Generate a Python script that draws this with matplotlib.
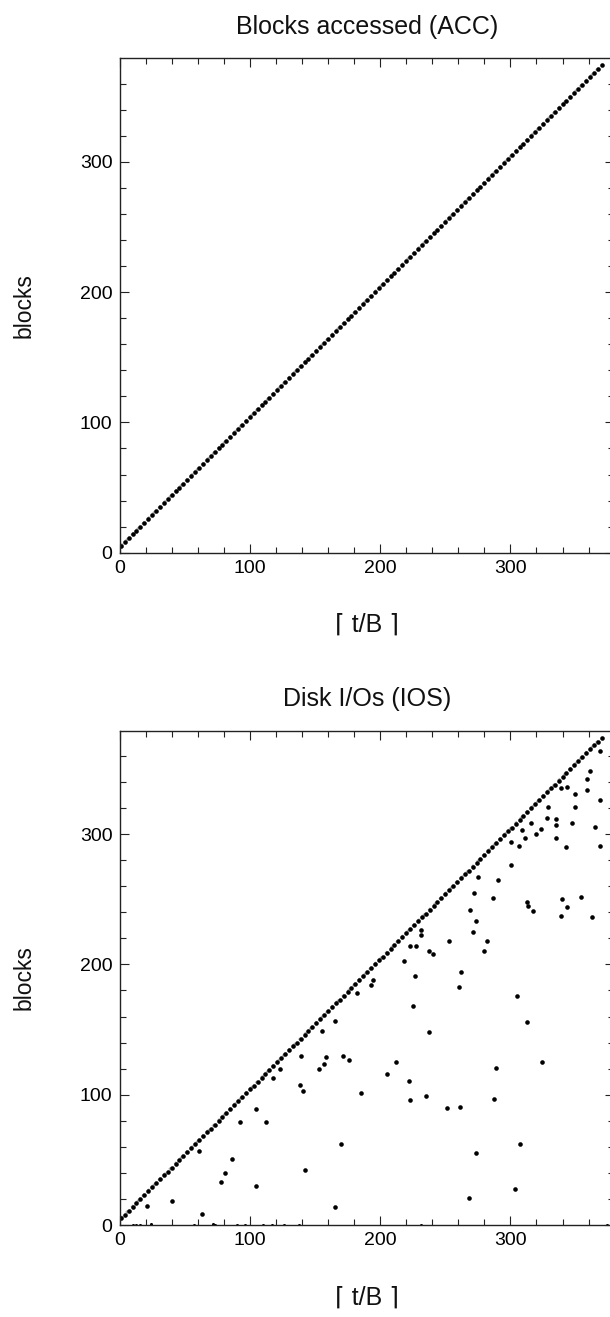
import matplotlib
matplotlib.use('Agg')
import matplotlib.pyplot as plt
from matplotlib.ticker import MultipleLocator

plt.rcParams['font.family'] = ['Liberation Sans', 'DejaVu Sans']

# ceil(t/B) values sampled along the run and blocks touched for each
tb = [1, 4, 7, 10, 13, 16, 19, 22, 25, 28, 31, 34, 37, 40, 43, 46, 49, 52, 55, 58,
      61, 64, 67, 70, 73, 76, 79, 82, 85, 88, 91, 94, 97, 100, 103, 106, 109, 112, 115, 118,
      121, 124, 127, 130, 133, 136, 139, 142, 145, 148, 151, 154, 157, 160, 163, 166, 169, 172, 175, 178,
      181, 184, 187, 190, 193, 196, 199, 202, 205, 208, 211, 214, 217, 220, 223, 226, 229, 232, 235, 238,
      241, 244, 247, 250, 253, 256, 259, 262, 265, 268, 271, 274, 277, 280, 283, 286, 289, 292, 295, 298,
      301, 304, 307, 310, 313, 316, 319, 322, 325, 328, 331, 334, 337, 340, 343, 346, 349, 352, 355, 358,
      361, 364, 367, 370]
acc = [5, 8, 11, 14, 17, 20, 23, 26, 29, 32, 35, 38, 41, 44, 47, 50, 53, 56, 59, 62,
       65, 68, 71, 74, 77, 80, 83, 86, 89, 92, 95, 98, 101, 104, 107, 110, 113, 116, 119, 122,
       125, 128, 131, 134, 137, 140, 143, 146, 149, 152, 155, 158, 161, 164, 167, 170, 173, 176, 179, 182,
       185, 188, 191, 194, 197, 200, 203, 206, 209, 212, 215, 218, 221, 224, 227, 230, 233, 236, 239, 242,
       245, 248, 251, 254, 257, 260, 263, 266, 269, 272, 275, 278, 281, 284, 287, 290, 293, 296, 299, 302,
       305, 308, 311, 314, 317, 320, 323, 326, 329, 332, 335, 338, 341, 344, 347, 350, 353, 356, 359, 362,
       365, 368, 371, 374]

# disk I/Os: most queries cost as much as they access, the rest fall below
ios_t = [368.5, 360.8, 358.7, 358.7, 368.5, 349.5, 349.5, 343.3, 338.5, 329.2,
         347.5, 364.6, 368.5, 334.6, 334.6, 334.6, 342.8, 328.2, 323.8, 320,
         316, 311.3, 309.2, 306.4, 300.2, 300.5, 290.8, 275.2, 272.3, 286.4,
         339.8, 353.8, 269.2, 273.6, 271.3, 282.3, 279.5, 252.5, 312.6, 313.8,
         317.4, 343.6, 338.5, 362.6, 237.2, 240.5, 223.1, 227.2, 218.2, 226.4,
         225.1, 237.4, 262.3, 260.2, 305.4, 312.6, 324.6, 289.2, 212.3, 205.4,
         222.3, 223.3, 235.4, 287.4, 185.4, 171.3, 176.2, 158.2, 157.2, 153.1,
         139, 138.2, 141, 165.4, 155.2, 182.3, 193.3, 194.4, 117.9, 123.3,
         231.2, 231.2, 105.1, 112.1, 92.3, 86.2, 81, 78.2, 105.1, 61.3,
         21, 40, 63.1, 142.3, 170.2, 165.2, 251.3, 261.3, 273.6, 307.5,
         268.2, 303.3]
ios = [364, 348.2, 342.1, 334.1, 326.4, 331, 321, 335.9, 335.4, 321,
       308.2, 305.2, 291, 311.3, 307, 297.2, 290, 312.3, 304.1, 300,
       308.2, 297.2, 303.1, 291, 294.1, 276.2, 264.8, 266.9, 254.8, 251,
       249.8, 251.8, 242, 233.1, 224.9, 217.9, 210, 217.9, 247.9, 245.1,
       241, 244.1, 237.2, 236.2, 210, 207.9, 214.1, 214.1, 202.8, 190.8,
       167.7, 147.9, 194.1, 182.8, 175.9, 155.9, 124.9, 120.8, 124.9, 115.9,
       110.8, 96.2, 98.7, 96.9, 101, 129.8, 126.9, 128.7, 123.8, 119.8,
       129.8, 107.7, 102.8, 156.9, 148.7, 177.9, 184.1, 187.7, 112.8, 119.7,
       222.6, 226.4, 88.7, 78.7, 78.7, 50.8, 39.8, 32.8, 29.8, 56.9,
       14.6, 18.7, 8.7, 42.5, 61.8, 13.6, 89.7, 90.8, 54.9, 61.8,
       20.8, 27.7]
# queries answered without touching the disk
zero_t = [10, 13, 16, 24, 57, 72, 73, 90, 96, 110, 117, 126, 138, 231, 374]
zero_ios = [0, 0, 0, 1, 0, 1, 0, 0, 0, 0, 0, 0, 0, 0, 0]

W, H = 610, 1317
fig = plt.figure(figsize=(W / 100, H / 100), dpi=100)

lim = 379.4
ax_w = 494.4


def style(ax, title):
    ax.set_xlim(0, lim)
    ax.set_ylim(0, lim)
    ax.xaxis.set_major_locator(MultipleLocator(100))
    ax.yaxis.set_major_locator(MultipleLocator(100))
    ax.xaxis.set_minor_locator(MultipleLocator(20))
    ax.yaxis.set_minor_locator(MultipleLocator(20))
    ax.tick_params(which='both', direction='in', top=True, right=True,
                   labelsize=14, pad=5, color='#222222')
    ax.tick_params(which='major', length=6.5, width=0.8)
    ax.tick_params(which='minor', length=4, width=0.8)
    for s in ax.spines.values():
        s.set_linewidth(1.0)
        s.set_color('#222222')
    ax.text(0.5, 1.063, title, transform=ax.transAxes, ha='center',
            va='center', fontsize=18, color='#111111')
    ax.text(0.5, -0.146, '\u2308 t/B \u2309', transform=ax.transAxes,
            ha='center', va='center', fontsize=18, color='#111111')
    ax.text(-0.193, 0.5, 'blocks', transform=ax.transAxes, ha='center',
            va='center', rotation=90, fontsize=16.5, color='#111111')


def diagonal(ax):
    # faint dotted trace under the sampled points
    ax.plot(tb, acc, ls=(0, (1, 1.5)), color='0.68', lw=2.2, zorder=1)
    ax.plot(tb, acc, 'o', color='black', ms=3.3, mew=0, zorder=2)


ax1 = fig.add_axes([119.5 / W, 1 - 552.7 / H, ax_w / W, ax_w / H])
diagonal(ax1)
style(ax1, 'Blocks accessed (ACC)')

ax2 = fig.add_axes([119.5 / W, 1 - 1225 / H, ax_w / W, ax_w / H])
diagonal(ax2)
ax2.plot(ios_t, ios, 'o', color='black', ms=3.3, mew=0, zorder=2)
ax2.plot(zero_t, zero_ios, 'o', color='black', ms=2.2, mew=0, zorder=1)
style(ax2, 'Disk I/Os (IOS)')

fig.savefig('out.png', dpi=100)
